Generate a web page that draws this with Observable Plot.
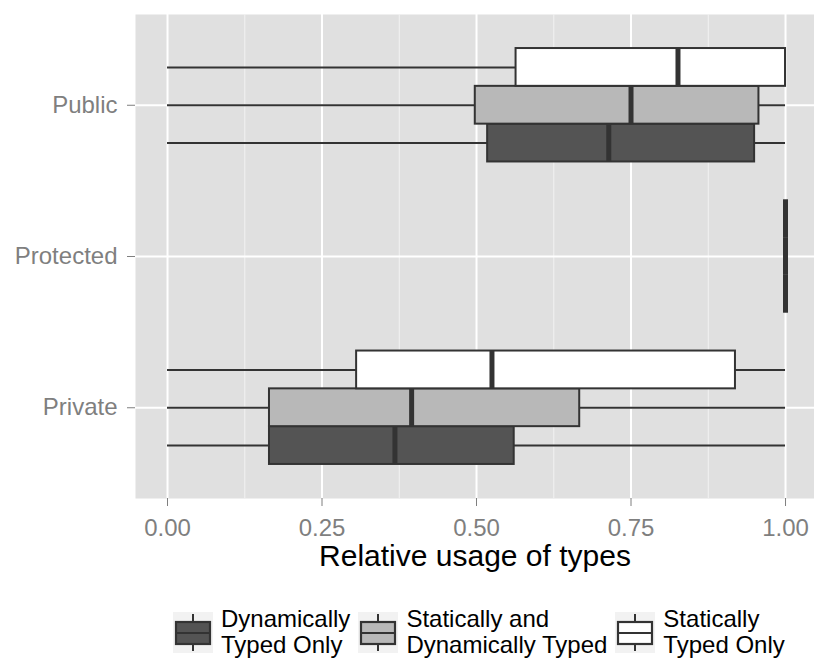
<!DOCTYPE html>
<html>
<head>
<meta charset="utf-8">
<script src="https://cdn.jsdelivr.net/npm/d3@7"></script>
<script src="https://cdn.jsdelivr.net/npm/@observablehq/plot@0.6"></script>
<style>
  html, body { margin: 0; padding: 0; background: white; overflow: hidden; }
  #wrap { position: relative; width: 814px; height: 660px; font-family: "Liberation Sans", Arial, Helvetica, sans-serif; }
  #legend { position: absolute; left: 173px; top: 606px; display: flex; align-items: center; gap: 8px; }
  .item { display: flex; align-items: center; gap: 8px; }
  .key { width: 40px; height: 41px; background: #F2F2F2; display: block; }
  .lab { font-size: 24px; line-height: 26px; color: #000; white-space: nowrap; }
</style>
</head>
<body>
<div id="wrap"><div id="chart"></div><div id="legend"></div></div>
<script>
// ---- data ----
const categories = ["Private", "Protected", "Public"];
const groups = ["Dynamically Typed Only", "Statically and Dynamically Typed", "Statically Typed Only"];
const legendLabels = [["Dynamically", "Typed Only"], ["Statically and", "Dynamically Typed"], ["Statically", "Typed Only"]];
// [category][group]
const whiskerLow  = [[0, 0, 0], [1, 1, 1], [0, 0, 0]];
const q1          = [[0.165, 0.165, 0.306], [1, 1, 1], [0.518, 0.498, 0.564]];
const median      = [[0.368, 0.395, 0.525], [1, 1, 1], [0.714, 0.750, 0.826]];
const q3          = [[0.561, 0.667, 0.919], [1, 1, 1], [0.950, 0.957, 1.000]];
const whiskerHigh = [[1, 1, 1], [1, 1, 1], [1, 1, 1]];
const xTicks = [0, 0.25, 0.5, 0.75, 1];
const xMinorTicks = [0.125, 0.375, 0.625, 0.875];
const xTitle = "Relative usage of types";

const fills = ["#545454", "#B8B8B8", "#FFFFFF"];
const dodge = 0.75;
const slot = dodge / groups.length;

const rows = [];
categories.forEach((c, ci) => groups.forEach((g, gi) => {
  const pos = ci + 1 + (gi - (groups.length - 1) / 2) * slot;
  rows.push({
    category: c, group: g, pos, y1: pos - slot / 2, y2: pos + slot / 2,
    low: whiskerLow[ci][gi], q1: q1[ci][gi], med: median[ci][gi], q3: q3[ci][gi], high: whiskerHigh[ci][gi]
  });
}));

const ink = "#333333";
const chart = Plot.plot({
  width: 814,
  height: 585,
  marginTop: 14,
  marginBottom: 87,
  marginLeft: 135,
  marginRight: 0,
  style: { fontFamily: '"Liberation Sans", Arial, Helvetica, sans-serif', fontSize: "24px", color: "#7F7F7F", background: "white" },
  x: { domain: [-0.0518, 1.0469] },
  y: { domain: [0.4, 3.6] },
  color: { domain: groups, range: fills },
  marks: [
    Plot.frame({ fill: "#E0E0E0", stroke: null }),
    Plot.ruleX(xMinorTicks, { stroke: "#F2F2F2", strokeWidth: 1 }),
    Plot.ruleX(xTicks, { stroke: "#FFFFFF", strokeWidth: 2 }),
    Plot.ruleY(categories.map((c, i) => i + 1), { stroke: "#FFFFFF", strokeWidth: 2 }),
    Plot.ruleY(rows, { y: "pos", x1: "low", x2: "high", stroke: ink, strokeWidth: 2 }),
    Plot.rect(rows, { x1: "q1", x2: "q3", y1: "y1", y2: "y2", fill: "group", stroke: ink, strokeWidth: 2 }),
    Plot.ruleX(rows, { x: "med", y1: "y1", y2: "y2", stroke: ink, strokeWidth: 5 }),
    Plot.axisX({ ticks: xTicks, tickFormat: d3.format(".2f"), tickSize: 8, tickPadding: 12, fontSize: 24, label: null, stroke: "#7F7F7F", fill: "#7F7F7F" }),
    Plot.axisY({ ticks: [1, 2, 3], tickFormat: d => categories[d - 1], tickSize: 8, tickPadding: 10, fontSize: 24, label: null, stroke: "#7F7F7F", fill: "#7F7F7F" }),
    Plot.text([xTitle], { text: d => d, frameAnchor: "bottom", dy: 67, fontSize: 30, fill: "#000000" })
  ]
});
document.getElementById("chart").appendChild(chart);

// ---- legend ----
const legend = document.getElementById("legend");
const ns = "http://www.w3.org/2000/svg";
groups.forEach((g, gi) => {
  const item = document.createElement("div");
  item.className = "item";
  const key = document.createElementNS(ns, "svg");
  key.setAttribute("class", "key");
  key.setAttribute("width", 40);
  key.setAttribute("height", 41);
  key.innerHTML =
    `<line x1="20" x2="20" y1="2" y2="10" stroke="${ink}" stroke-width="2"/>` +
    `<line x1="20" x2="20" y1="32" y2="39" stroke="${ink}" stroke-width="2"/>` +
    `<rect x="3" y="10" width="34" height="22" fill="${fills[gi]}" stroke="${ink}" stroke-width="2.2"/>` +
    `<line x1="3" x2="37" y1="21" y2="21" stroke="${ink}" stroke-width="2.2"/>`;
  const lab = document.createElement("div");
  lab.className = "lab";
  lab.innerHTML = legendLabels[gi].join("<br>");
  item.appendChild(key);
  item.appendChild(lab);
  legend.appendChild(item);
});
</script>
</body>
</html>
